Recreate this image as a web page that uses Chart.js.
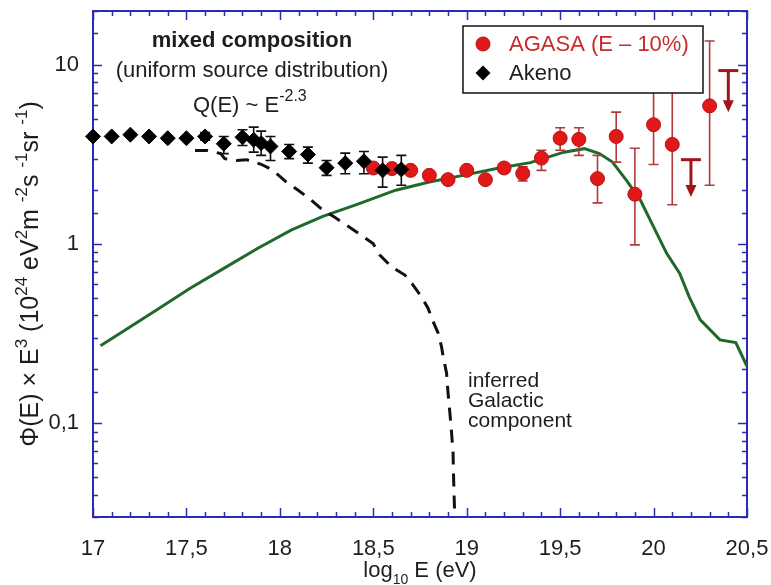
<!DOCTYPE html>
<html>
<head>
<meta charset="utf-8">
<script src="https://cdn.jsdelivr.net/npm/chart.js@4/dist/chart.umd.min.js"></script>
<style>
  html, body { margin: 0; padding: 0; background: #ffffff; }
  #wrap { width: 771px; height: 585px; }
</style>
</head>
<body>
<div id="wrap"><canvas id="c" width="771" height="585"></canvas></div>
<script>
// ---------------- data ----------------
const akenoLogE   = [17.0, 17.1, 17.2, 17.3, 17.4, 17.5, 17.6, 17.7, 17.8, 17.86, 17.9, 17.95, 18.05, 18.15, 18.25, 18.35, 18.45, 18.55, 18.65];
const akenoFlux   = [3.99, 3.99, 4.08, 3.99, 3.90, 3.90, 3.99, 3.63, 3.95, 3.82, 3.66, 3.51, 3.29, 3.16, 2.67, 2.83, 2.90, 2.58, 2.61];
const akenoErrLow = [3.99, 3.99, 4.08, 3.99, 3.90, 3.90, 3.80, 3.20, 3.55, 3.26, 3.13, 2.93, 3.00, 2.83, 2.42, 2.47, 2.47, 2.08, 2.13];
const akenoErrHigh= [3.99, 3.99, 4.08, 3.99, 3.90, 3.90, 4.20, 3.99, 4.35, 4.50, 4.27, 3.99, 3.60, 3.48, 2.93, 3.22, 3.29, 3.06, 3.13];

const agasaLogE   = [18.5, 18.6, 18.7, 18.8, 18.9, 19.0, 19.1, 19.2, 19.3, 19.4, 19.5, 19.6, 19.7, 19.8, 19.9, 20.0, 20.1, 20.3];
const agasaFlux   = [2.66, 2.64, 2.58, 2.42, 2.29, 2.58, 2.29, 2.66, 2.48, 3.02, 3.90, 3.84, 2.32, 3.99, 1.90, 4.64, 3.60, 5.91];
const agasaErrLow = [2.66, 2.64, 2.58, 2.42, 2.29, 2.58, 2.29, 2.66, 2.25, 2.58, 3.34, 3.13, 1.70, 2.87, 0.99, 2.78, 1.66, 2.13];
const agasaErrHigh= [2.66, 2.64, 2.58, 2.42, 2.29, 2.58, 2.29, 2.66, 2.70, 3.34, 4.46, 4.46, 3.13, 5.45, 3.43, 9.50, 8.50, 13.6];

const limitLogE   = [20.2, 20.4];
const limitFlux   = [2.96, 9.30];
const limitTip    = [1.83, 5.45];

const modelLogE = [17.04, 17.16, 17.34, 17.52, 17.70, 17.88, 18.06, 18.23, 18.41, 18.62, 18.80, 18.98, 19.16, 19.34, 19.41, 19.52, 19.63, 19.71, 19.78, 19.855, 19.93, 20.00, 20.07, 20.14, 20.19, 20.25, 20.355, 20.44, 20.50];
const modelFlux = [0.271, 0.325, 0.429, 0.567, 0.732, 0.946, 1.197, 1.43, 1.66, 2.00, 2.22, 2.42, 2.64, 2.85, 3.00, 3.26, 3.41, 3.20, 2.87, 2.27, 1.757, 1.248, 0.888, 0.687, 0.509, 0.378, 0.292, 0.282, 0.208];

const galLogE = [17.546, 17.614, 17.684, 17.705, 17.768, 17.821, 17.90, 17.964, 18.035, 18.098, 18.169, 18.23, 18.29, 18.357, 18.499, 18.535, 18.597, 18.669, 18.713, 18.758, 18.793, 18.82, 18.847, 18.865, 18.874, 18.892, 18.90, 18.91, 18.919, 18.927, 18.93, 18.936];
const galFlux = [3.33, 3.33, 3.20, 3.00, 2.93, 2.96, 2.79, 2.58, 2.22, 2.00, 1.757, 1.55, 1.42, 1.276, 1.009, 0.869, 0.747, 0.672, 0.591, 0.509, 0.439, 0.370, 0.319, 0.268, 0.236, 0.191, 0.148, 0.114, 0.0885, 0.0684, 0.0486, 0.0300];

const xTickValues = [17, 17.5, 18, 18.5, 19, 19.5, 20, 20.5];
const xTickLabels = ['17', '17,5', '18', '18,5', '19', '19,5', '20', '20,5'];
const yTickValues = [0.1, 1, 10];
const yTickLabels = ['0,1', '1', '10'];

const legendLabels = ['AGASA (E \u2013 10%)', 'Akeno'];

// ---------------- style ----------------
const FONT = '"Liberation Sans", Arial, Helvetica, sans-serif';
const AXIS_COLOR = '#2b2bb3';
const TEXT_COLOR = '#1e1e1e';
const RED = '#e01818';
const RED_EDGE = '#b51212';
const ERR_RED = '#b23a3a';
const ARROW_RED = '#a01616';
const GREEN = '#1f6a2b';

const pts = (xs, ys) => xs.map((v, i) => ({ x: v, y: ys[i] }));

function line(ctx, x1, y1, x2, y2) {
  ctx.beginPath(); ctx.moveTo(x1, y1); ctx.lineTo(x2, y2); ctx.stroke();
}

// frame + inward ticks (drawn before datasets so markers sit on top)
const frameTicks = {
  id: 'frameTicks',
  beforeDatasetsDraw(chart) {
    const { ctx, chartArea: a, scales: { x, y } } = chart;
    ctx.save();
    ctx.strokeStyle = AXIS_COLOR;
    ctx.lineWidth = 1.5;
    x.ticks.forEach(t => {
      const v = t.value;
      const major = Math.abs(v * 2 - Math.round(v * 2)) < 1e-6;
      const len = major ? 9 : 5;
      const px = Math.round(x.getPixelForValue(v)) + 0.5;
      line(ctx, px, a.bottom, px, a.bottom - len);
      line(ctx, px, a.top, px, a.top + len);
    });
    y.ticks.forEach(t => {
      const v = t.value;
      const lg = Math.log10(v);
      const major = Math.abs(lg - Math.round(lg)) < 1e-6;
      const len = major ? 9 : 5;
      const py = Math.round(y.getPixelForValue(v)) + 0.5;
      line(ctx, a.left, py, a.left + len, py);
      line(ctx, a.right, py, a.right - len, py);
    });
    ctx.lineWidth = 2;
    ctx.strokeRect(a.left, a.top, a.right - a.left, a.bottom - a.top);
    ctx.restore();
  }
};

// error bars, drawn just before the dataset they belong to
const errorBars = {
  id: 'errorBars',
  beforeDatasetDraw(chart, args) {
    const ds = chart.data.datasets[args.index];
    if (!ds.errLow) return;
    const { ctx, scales: { x, y }, chartArea: a } = chart;
    ctx.save();
    ctx.beginPath(); ctx.rect(a.left - 10, a.top, a.right - a.left + 20, a.bottom - a.top); ctx.clip();
    ctx.strokeStyle = ds.errColor;
    ctx.lineWidth = 1.6;
    ds.data.forEach((p, i) => {
      const lo = ds.errLow[i], hi = ds.errHigh[i];
      if (!(hi > lo)) return;
      const px = x.getPixelForValue(p.x);
      const y1 = y.getPixelForValue(hi), y2 = y.getPixelForValue(lo);
      ctx.beginPath();
      ctx.moveTo(px, y1); ctx.lineTo(px, y2);
      ctx.moveTo(px - 5, y1); ctx.lineTo(px + 5, y1);
      ctx.moveTo(px - 5, y2); ctx.lineTo(px + 5, y2);
      ctx.stroke();
    });
    ctx.restore();
  }
};

function drawRich(ctx, parts, x, y, align) {
  // parts: [text, mode, font] mode 0 normal, 1 sup, 2 sub
  const widths = parts.map(p => { ctx.font = p[2]; return ctx.measureText(p[0]).width; });
  const total = widths.reduce((s, w) => s + w, 0);
  let cx = align === 'center' ? x - total / 2 : x;
  ctx.textAlign = 'left';
  ctx.textBaseline = 'alphabetic';
  parts.forEach((p, i) => {
    ctx.font = p[2];
    const dy = p[1] === 1 ? -11 : (p[1] === 2 ? 7 : 0);
    ctx.fillText(p[0], cx, y + dy);
    cx += widths[i];
  });
}

const decor = {
  id: 'decor',
  afterDatasetsDraw(chart) {
    const { ctx, scales: { x, y } } = chart;
    ctx.save();
    // upper limits
    ctx.strokeStyle = ARROW_RED;
    ctx.fillStyle = ARROW_RED;
    limitLogE.forEach((v, i) => {
      const px = x.getPixelForValue(v);
      const yT = y.getPixelForValue(limitFlux[i]);
      const yTip = y.getPixelForValue(limitTip[i]);
      ctx.lineWidth = 3;
      line(ctx, px - 10, yT, px + 10, yT);
      line(ctx, px, yT, px, yTip - 10);
      ctx.beginPath();
      ctx.moveTo(px - 5.5, yTip - 12);
      ctx.lineTo(px + 5.5, yTip - 12);
      ctx.lineTo(px, yTip);
      ctx.closePath();
      ctx.fill();
    });

    // legend box
    const lx = 463, ly = 26, lw = 240, lh = 67;
    ctx.fillStyle = '#ffffff';
    ctx.fillRect(lx, ly, lw, lh);
    ctx.strokeStyle = '#111';
    ctx.lineWidth = 1.5;
    ctx.strokeRect(lx, ly, lw, lh);
    // AGASA marker
    ctx.beginPath(); ctx.arc(lx + 20, ly + 18, 7, 0, Math.PI * 2);
    ctx.fillStyle = RED; ctx.fill(); ctx.strokeStyle = RED_EDGE; ctx.lineWidth = 1; ctx.stroke();
    // Akeno marker
    ctx.beginPath();
    const dx = lx + 20, dy = ly + 47, r = 7.5;
    ctx.moveTo(dx - r, dy); ctx.lineTo(dx, dy - r); ctx.lineTo(dx + r, dy); ctx.lineTo(dx, dy + r); ctx.closePath();
    ctx.fillStyle = '#000'; ctx.fill();
    ctx.font = '22px ' + FONT;
    ctx.textAlign = 'left'; ctx.textBaseline = 'middle';
    ctx.fillStyle = '#c92b2b';
    ctx.fillText(legendLabels[0], lx + 46, ly + 19);
    ctx.fillStyle = TEXT_COLOR;
    ctx.fillText(legendLabels[1], lx + 46, ly + 48);
    ctx.restore();
  },
  afterDraw(chart) {
    const { ctx, chartArea: a } = chart;
    ctx.save();
    ctx.fillStyle = TEXT_COLOR;
    ctx.textAlign = 'center';
    ctx.textBaseline = 'alphabetic';
    ctx.font = 'bold 22px ' + FONT;
    ctx.fillText('mixed composition', 252, 47);
    ctx.font = '22px ' + FONT;
    ctx.fillText('(uniform source distribution)', 252, 77);
    drawRich(ctx, [['Q(E) ~ E', 0, '22px ' + FONT], ['-2.3', 1, '16px ' + FONT]], 193, 112, 'left');

    ctx.font = '21px ' + FONT;
    ctx.textAlign = 'left';
    ctx.fillText('inferred', 468, 387);
    ctx.fillText('Galactic', 468, 407);
    ctx.fillText('component', 468, 427);

    // x title
    drawRich(ctx, [['log', 0, '22px ' + FONT], ['10', 2, '14px ' + FONT], [' E (eV)', 0, '22px ' + FONT]],
      (a.left + a.right) / 2, 577, 'center');

    // y title (rotated)
    ctx.translate(38, (a.top + a.bottom) / 2 + 10);
    ctx.rotate(-Math.PI / 2);
    const M = '25px ' + FONT, S = '17px ' + FONT;
    drawRich(ctx, [
      ['\u03A6(E) \u00D7 E', 0, M], ['3', 1, S], [' (10', 0, M], ['24', 1, S],
      [' eV', 0, M], ['2', 1, S], ['m ', 0, M], ['-2', 1, S], ['s ', 0, M], ['-1', 1, S],
      ['sr ', 0, M], ['-1', 1, S], [')', 0, M]
    ], 0, 0, 'center');
    ctx.restore();
  }
};

new Chart(document.getElementById('c'), {
  type: 'scatter',
  data: {
    datasets: [
      {
        label: 'Akeno',
        data: pts(akenoLogE, akenoFlux),
        showLine: false,
        pointStyle: 'rectRot',
        pointRadius: 7.5,
        backgroundColor: '#000',
        borderColor: '#000',
        borderWidth: 1,
        errLow: akenoErrLow, errHigh: akenoErrHigh, errColor: '#111',
        clip: false
      },
      {
        label: 'AGASA (E \u2013 10%)',
        data: pts(agasaLogE, agasaFlux),
        showLine: false,
        pointStyle: 'circle',
        pointRadius: 7,
        backgroundColor: RED,
        borderColor: RED_EDGE,
        borderWidth: 1,
        errLow: agasaErrLow, errHigh: agasaErrHigh, errColor: ERR_RED
      },
      {
        label: 'inferred Galactic component',
        data: pts(galLogE, galFlux),
        showLine: true,
        pointRadius: 0,
        borderColor: '#111',
        borderWidth: 3,
        borderDash: [13, 9],
        tension: 0,
        fill: false
      },
      {
        label: 'model',
        data: pts(modelLogE, modelFlux),
        showLine: true,
        pointRadius: 0,
        borderColor: GREEN,
        borderWidth: 3,
        tension: 0,
        fill: false
      }
    ]
  },
  options: {
    responsive: false,
    animation: false,
    events: [],
    layout: { padding: { left: 0, right: 24, top: 11, bottom: 0 } },
    plugins: { legend: { display: false }, tooltip: { enabled: false }, title: { display: false } },
    scales: {
      x: {
        type: 'linear',
        min: 17, max: 20.5,
        grid: { display: false, drawTicks: false },
        border: { display: false },
        ticks: {
          stepSize: 0.1,
          autoSkip: false,
          maxRotation: 0,
          padding: 19,
          color: TEXT_COLOR,
          font: { family: FONT, size: 22 },
          callback: (v) => {
            const i = xTickValues.findIndex(t => Math.abs(t - v) < 1e-6);
            return i >= 0 ? xTickLabels[i] : '';
          }
        },
        afterFit: (s) => { s.height = 68; s.paddingLeft = 0; s.paddingRight = 0; s.paddingTop = 0; s.paddingBottom = 0; }
      },
      y: {
        type: 'logarithmic',
        min: 0.03, max: 20,
        grid: { display: false, drawTicks: false },
        border: { display: false },
        ticks: {
          autoSkip: false,
          padding: 14,
          color: TEXT_COLOR,
          font: { family: FONT, size: 22 },
          callback: (v) => {
            const i = yTickValues.findIndex(t => Math.abs(Math.log10(t) - Math.log10(v)) < 1e-6);
            return i >= 0 ? yTickLabels[i] : '';
          }
        },
        afterFit: (s) => { s.width = 93; s.paddingLeft = 0; s.paddingRight = 0; s.paddingTop = 0; s.paddingBottom = 0; }
      }
    }
  },
  plugins: [frameTicks, errorBars, decor]
});
</script>
</body>
</html>
